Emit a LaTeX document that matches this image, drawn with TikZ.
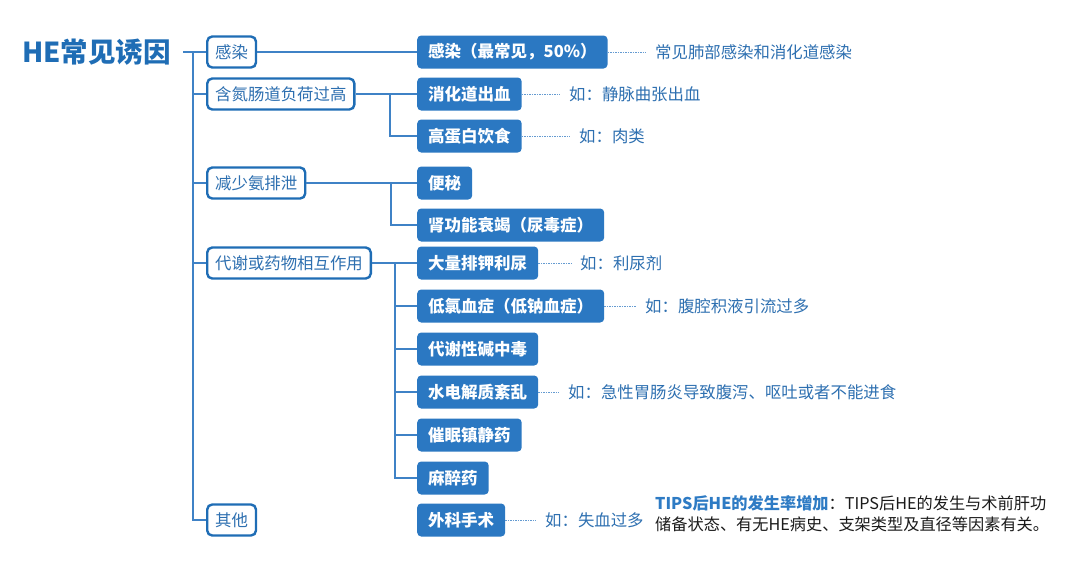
\documentclass[tikz,border=0pt]{standalone}
\usepackage{fontspec}
\setmainfont{Noto Sans CJK SC}
\definecolor{hedark}{HTML}{1F6DB5}
\definecolor{heblue}{HTML}{2B78C2}
\definecolor{heline}{HTML}{3F82C6}
\definecolor{henote}{HTML}{2D6FB0}
\definecolor{tipsblue}{HTML}{2E7BC4}
\definecolor{tipstext}{HTML}{1A1A1A}

\begin{document}
\begin{tikzpicture}[x=1pt, y=-1pt, every node/.style={font=\fontsize{16.4}{19}\selectfont},
	cause/.style={draw=hedark, line width=2.4pt, rounded corners=5pt, fill=white, text=henote, inner xsep=8pt, minimum height=31pt, anchor=west},
	factor/.style={fill=heblue, rounded corners=4pt, text=white, font=\fontsize{16.5}{19}\selectfont\bfseries, inner xsep=11pt, minimum height=33pt, anchor=west},
	note/.style={text=henote, inner xsep=9pt, anchor=west},
	link/.style={heline, line width=1.6pt},
	hint/.style={heline!80, dash pattern=on 1.5pt off 1pt, line width=0.7pt}]
	\useasboundingbox (0,0) rectangle (1080,566);
	\node[font=\fontsize{27.5}{32}\selectfont\bfseries, text=hedark, anchor=west, inner sep=0pt] (title) at (22,52) {HE常见诱因};
	\coordinate (root) at (183,52);
	\coordinate (trunk) at (193,52);

	\node[cause] (infect) at (206,52) {感染};
	\node[cause] (ammonia) at (206,94) {含氮肠道负荷过高};
	\node[cause] (excrete) at (206,183) {减少氨排泄};
	\node[cause] (metab) at (206,263) {代谢或药物相互作用};
	\node[cause] (other) at (206,520) {其他};

	\node[factor] (inf) at (417,52) {感染（最常见，50\%）};
	\node[factor] (bleed) at (417,94) {消化道出血};
	\node[factor] (protein) at (417,136) {高蛋白饮食};
	\node[factor] (constip) at (417,183) {便秘};
	\node[factor] (renal) at (417,225) {肾功能衰竭（尿毒症）};
	\node[factor] (diur) at (417,263) {大量排钾利尿};
	\node[factor] (hypocl) at (417,306) {低氯血症（低钠血症）};
	\node[factor] (alkal) at (417,349) {代谢性碱中毒};
	\node[factor] (electro) at (417,392) {水电解质紊乱};
	\node[factor] (sedat) at (417,435) {催眠镇静药};
	\node[factor] (anest) at (417,478) {麻醉药};
	\node[factor] (surg) at (417,520) {外科手术};

	\node[note] (n1) at (646,52) {常见肺部感染和消化道感染};
	\node[note] (n2) at (560,94) {如：静脉曲张出血};
	\node[note] (n3) at (570,136) {如：肉类};
	\node[note] (n4) at (571,263) {如：利尿剂};
	\node[note] (n5) at (636,306) {如：腹腔积液引流过多};
	\node[note] (n6) at (559,392) {如：急性胃肠炎导致腹泻、呕吐或者不能进食};
	\node[note] (n7) at (536,520) {如：失血过多};
	\node[anchor=north west, inner sep=0pt, align=left, text=tipstext, font=\fontsize{16.2}{21}\selectfont] (tips) at (655,495)
		{\textcolor{tipsblue}{\bfseries TIPS后HE的发生率增加}：TIPS后HE的发生与术前肝功\\储备状态、有无HE病史、支架类型及直径等因素有关。};

	\draw[link] (root) -- (infect.west);
	\draw[link] (trunk) |- (other.west);
	\foreach \n in {ammonia,excrete,metab}
		\draw[link] (trunk |- \n.west) -- (\n.west);
	\draw[link] (infect.east) -- (inf.west);
	\draw[link] (ammonia.east) -- (bleed.west);
	\coordinate (j1) at (390,94);
	\draw[link] (j1) |- (protein.west);
	\draw[link] (excrete.east) -- (constip.west);
	\coordinate (j2) at (391,183);
	\draw[link] (j2) |- (renal.west);
	\draw[link] (metab.east) -- (diur.west);
	\coordinate (j3) at (395,263);
	\draw[link] (j3) |- (anest.west);
	\foreach \n in {hypocl,alkal,electro,sedat}
		\draw[link] (j3 |- \n.west) -- (\n.west);
	\foreach \a/\b in {inf/n1,bleed/n2,protein/n3,diur/n4,hypocl/n5,electro/n6,surg/n7}
		\draw[hint] (\a.east) -- (\b.west);
\end{tikzpicture}
\end{document}
